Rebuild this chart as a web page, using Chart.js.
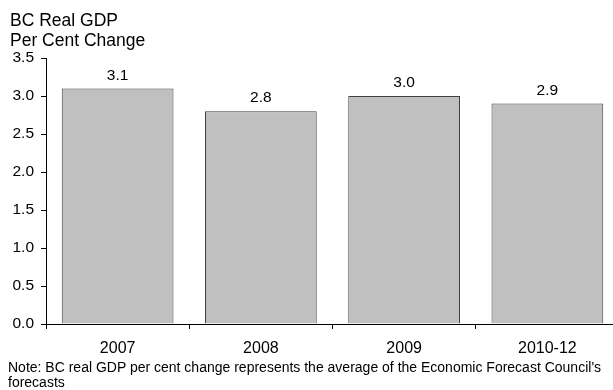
<!DOCTYPE html>
<html>
<head>
<meta charset="utf-8">
<script src="https://cdn.jsdelivr.net/npm/chart.js@4/dist/chart.umd.min.js"></script>
<style>
  html, body { margin: 0; padding: 0; background: #fff; overflow: hidden; }
  #wrap { position: relative; width: 613px; height: 390px; overflow: hidden; }
  #box { position: absolute; left: 0; top: 0; width: 620px; height: 390px; }
  .txt { position: absolute; font-family: "Liberation Sans", Arial, sans-serif; color: #000; white-space: nowrap; }
  #title { left: 10px; top: 10px; font-size: 17.5px; line-height: 20px; }
  #note { left: 8px; top: 360px; font-size: 14px; line-height: 15px; }
</style>
</head>
<body>
<div id="wrap">
  <div id="box"><canvas id="c"></canvas></div>
  <div id="title" class="txt">BC Real GDP<br>Per Cent Change</div>
  <div id="note" class="txt">Note: BC real GDP per cent change represents the average of the Economic Forecast Council's<br>forecasts</div>
</div>
<script>
// Periods and average forecast growth (%)
const periods = ["2007", "2008", "2009", "2010-12"];
const gdpGrowth = [3.1, 2.8, 3.0, 2.9];
const yTicks = [0.0, 0.5, 1.0, 1.5, 2.0, 2.5, 3.0, 3.5];

const FONT = "'Liberation Sans', Arial, sans-serif";

// Writes each bar's value just above it
const valueLabels = {
  id: "valueLabels",
  afterDatasetsDraw(chart) {
    const ctx = chart.ctx;
    const meta = chart.getDatasetMeta(0);
    ctx.save();
    ctx.font = "15.5px " + FONT;
    ctx.fillStyle = "#000";
    ctx.textAlign = "center";
    ctx.textBaseline = "middle";
    meta.data.forEach((bar, i) => {
      ctx.fillText(gdpGrowth[i].toFixed(1), bar.x, bar.y - 13);
    });
    ctx.restore();
  }
};

new Chart(document.getElementById("c"), {
  type: "bar",
  data: {
    labels: periods,
    datasets: [{
      data: gdpGrowth,
      backgroundColor: "#c0c0c0",
      borderColor: "#404040",
      borderWidth: 1,
      borderSkipped: "bottom",
      categoryPercentage: 1.0,
      barPercentage: 0.78
    }]
  },
  options: {
    responsive: true,
    maintainAspectRatio: false,
    animation: false,
    layout: { padding: { left: 0, right: 1, top: 58, bottom: 0 } },
    plugins: { legend: { display: false }, tooltip: { enabled: false } },
    scales: {
      x: {
        offset: true,
        grid: { display: true, offset: true, drawOnChartArea: false, drawTicks: true, tickLength: 5, color: "#000" },
        border: { display: true, color: "#000", width: 1 },
        ticks: { color: "#000", font: { family: FONT, size: 16 }, padding: 10, maxRotation: 0 },
        afterFit(scale) { scale.height = 66; }
      },
      y: {
        min: 0,
        max: 3.5,
        afterBuildTicks(scale) { scale.ticks = yTicks.map(v => ({ value: v })); },
        grid: { display: true, drawOnChartArea: false, drawTicks: true, tickLength: 5, color: "#000" },
        border: { display: true, color: "#000", width: 1 },
        ticks: { color: "#000", font: { family: FONT, size: 15.5 }, padding: 7, callback: v => Number(v).toFixed(1) },
        afterFit(scale) { scale.width = 46; }
      }
    }
  },
  plugins: [valueLabels]
});
</script>
</body>
</html>
